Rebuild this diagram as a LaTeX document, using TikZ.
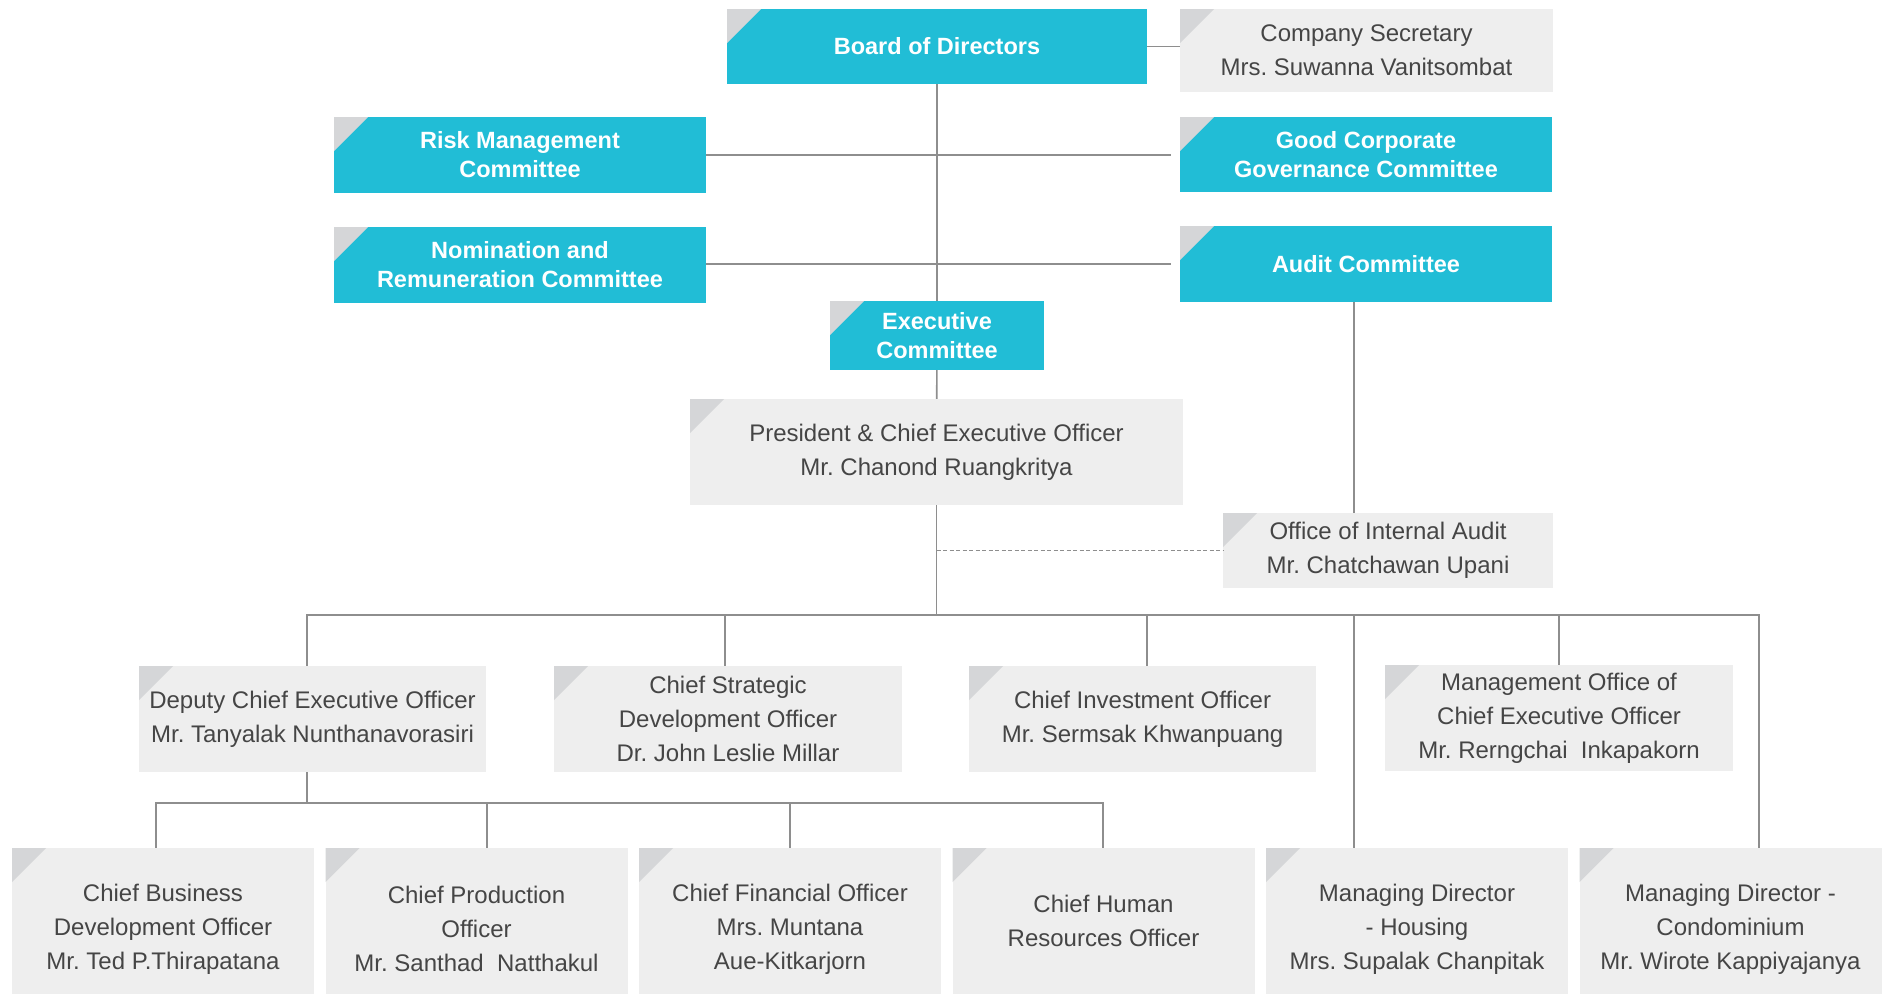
\documentclass[tikz,border=0pt]{standalone}
\usepackage{fontspec}
\setmainfont{Liberation Sans}
\frenchspacing

\definecolor{orgcyan}{HTML}{21BDD6}
\definecolor{orggrey}{HTML}{EEEEEE}
\definecolor{tabgrey}{HTML}{D5D6D8}
\definecolor{linkgrey}{HTML}{8E8E8E}
\definecolor{textgrey}{HTML}{454545}

\tikzset{
  unit/.style={rectangle, inner sep=0pt, align=center,
    path picture={\fill[tabgrey] (path picture bounding box.north west)
      -- ++(34pt,0pt) -- ++(-34pt,-34pt) -- cycle;}},
  dims/.style 2 args={minimum width=#1pt, minimum height=#2pt},
  committee/.style={unit, fill=orgcyan, text=white,
    font=\bfseries\fontsize{23.5}{29}\selectfont},
  officer/.style={unit, fill=orggrey, text=textgrey,
    font=\fontsize{24}{34}\selectfont},
  link/.style={draw=linkgrey, line width=1.6pt},
}

\begin{document}
\begin{tikzpicture}[x=1pt, y=-1pt]
  \useasboundingbox (0,0) rectangle (1892,993);

  % board and its committees
  \node[committee, dims={420}{75}] (board) at (937,46.5) {Board of Directors};
  \node[officer, dims={373}{83}] (secretary) at (1366.5,50.5)
    {Company Secretary\\Mrs. Suwanna Vanitsombat};
  \node[committee, dims={372}{76}] (risk) at (520,155) {Risk Management\\Committee};
  \node[committee, dims={372}{75}] (goodgov) at (1366,154.5)
    {Good Corporate\\Governance Committee};
  \node[committee, dims={372}{76}] (nomination) at (520,265)
    {Nomination and\\Remuneration Committee};
  \node[committee, dims={372}{76}] (auditcom) at (1366,264) {Audit Committee};
  \node[committee, dims={214}{69}] (execcom) at (937,335.5) {Executive\\Committee};

  % management
  \node[officer, dims={493}{106}] (president) at (936.5,452)
    {President \& Chief Executive Officer\\Mr. Chanond Ruangkritya};
  \node[officer, dims={330}{75}] (internal) at (1388,550.5)
    {Office of Internal Audit\\Mr. Chatchawan Upani};

  \node[officer, dims={347}{106}] (deputy) at (312.5,719)
    {Deputy Chief Executive Officer\\Mr. Tanyalak Nunthanavorasiri};
  \node[officer, dims={348}{106}] (strategic) at (728,719)
    {Chief Strategic\\Development Officer\\Dr. John Leslie Millar};
  \node[officer, dims={347}{106}] (investment) at (1142.5,719)
    {Chief Investment Officer\\Mr. Sermsak Khwanpuang};
  \node[officer, dims={348}{106}] (mgmtoffice) at (1559,718)
    {Management Office of\\Chief Executive Officer\\Mr. Rerngchai\ \ Inkapakorn};

  % bottom row, cut off by the page edge
  \node[officer, dims={302}{162}] (cbdo) at (163,929)
    {Chief Business\\Development Officer\\Mr. Ted P.Thirapatana};
  \node[officer, dims={302}{162}] (cpo) at (476.5,929)
    {Chief Production\\Officer\\Mr. Santhad\ \ Natthakul};
  \node[officer, dims={302}{162}] (cfo) at (790,929)
    {Chief Financial Officer\\Mrs. Muntana\\Aue-Kitkarjorn};
  \node[officer, dims={302}{146}] (chro) at (1103.5,921)
    {Chief Human\\Resources Officer};
  \node[officer, dims={302}{162}] (housing) at (1417,929)
    {Managing Director\\- Housing\\Mrs. Supalak Chanpitak};
  \node[officer, dims={302}{162}] (condo) at (1730.5,929)
    {Managing Director -\\Condominium\\Mr. Wirote Kappiyajanya};

  % connectors
  \draw[link] (board.east) -- (board.east -| secretary.west);
  \draw[link] (board) -- (execcom);
  \draw[link] (risk.east) -- ([xshift=-9pt]risk.east -| goodgov.west);
  \draw[link] (auditcom.west -| nomination.east) -- ([xshift=-9pt]auditcom.west);
  \draw[link] (execcom) -- (president);
  \draw[link] ([xshift=-12pt]auditcom.south) -- ([xshift=-12pt]auditcom.south |- internal.north);
  \draw[link, dash pattern=on 4pt off 2.5pt, line width=1.4pt]
    (president.south |- internal.west) -- (internal.west);

  \coordinate (busW) at (307,615);
  \coordinate (busE) at (1759,615);
  \draw[link] (president.south) -- (president.south |- busW);
  \draw[link] (busW |- deputy.north) -- (busW) -- (busE) -- (busE |- condo.north);
  \draw[link] ([xshift=-3pt]strategic.north) -- ([xshift=-3pt]strategic.north |- busW);
  \draw[link] ([xshift=4.5pt]investment.north) -- ([xshift=4.5pt]investment.north |- busW);
  \draw[link] (mgmtoffice.north) -- (mgmtoffice.north |- busW);
  \draw[link] ([xshift=-63pt]housing.north) -- ([xshift=-63pt]housing.north |- busW);

  \coordinate (subW) at (156,803);
  \coordinate (subE) at (1103,803);
  \draw[link] (busW |- deputy.south) -- (busW |- subW);
  \draw[link] (subW |- cbdo.north) -- (subW) -- (subE) -- (subE |- chro.north);
  \draw[link] ([xshift=10.5pt]cpo.north) -- ([xshift=10.5pt]cpo.north |- subW);
  \draw[link] (cfo.north) -- (cfo.north |- subW);
\end{tikzpicture}
\end{document}
